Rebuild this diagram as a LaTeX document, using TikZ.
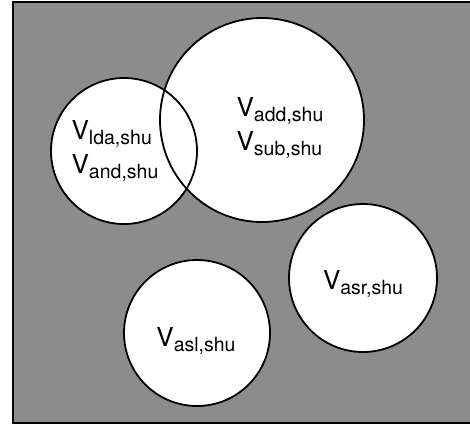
\documentclass[tikz,border=0pt]{standalone}
\usepackage{fontspec}
\setmainfont{TeX Gyre Heros}
\newcommand{\vname}[1]{V\raisebox{-4.5pt}{\fontsize{19.5}{19.5}\selectfont #1}}
\tikzset{
    shade area/.style={fill=black!45, draw=black, line width=2.5pt},
    set circle/.style={draw=black, line width=1.8pt},
    set label/.style={align=left, font=\fontsize{26}{34}\selectfont, inner sep=0pt}
}
\begin{document}
\begin{tikzpicture}[x=1pt,y=-1pt]
    \useasboundingbox (0,0) rectangle (470,428);
    \draw[shade area] (13,2) rectangle (480,423);
    \coordinate (lda) at (124,151);
    \coordinate (add) at (262,120);
    \coordinate (asr) at (363,278);
    \coordinate (asl) at (197,333);
    \fill[white] (lda) circle (73pt) (add) circle (102pt) (asr) circle (74pt) (asl) circle (73pt);
    \draw[set circle] (lda) circle (73pt) (add) circle (102pt) (asr) circle (74pt) (asl) circle (73pt);
    \node[set label] (ldatext) at (115,151) {\vname{lda,shu}\\\vname{and,shu}};
    \node[set label] (addtext) at (280,128) {\vname{add,shu}\\\vname{sub,shu}};
    \node[set label] (asrtext) at (363,284) {\vname{asr,shu}};
    \node[set label] (asltext) at (196,341) {\vname{asl,shu}};
\end{tikzpicture}
\end{document}
